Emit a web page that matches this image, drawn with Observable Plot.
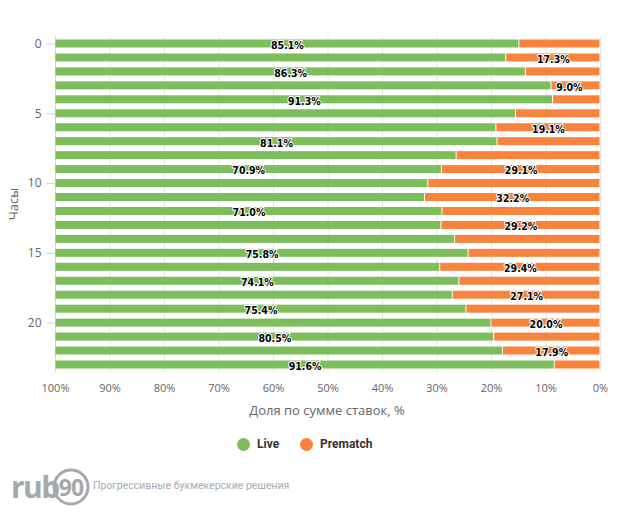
<!DOCTYPE html>
<html>
<head>
<meta charset="utf-8">
<script src="https://cdn.jsdelivr.net/npm/d3@7"></script>
<script src="https://cdn.jsdelivr.net/npm/@observablehq/plot@0.6"></script>
<style>
  body { margin: 0; background: #fff; }
  #wrap { position: relative; width: 621px; height: 516px; overflow: hidden; background: #fff; font-family: "Open Sans", "Noto Sans", sans-serif; }
  #chart { position: absolute; left: 0; top: 0; }
  .ytitle { position: absolute; left: 13px; top: 204px; transform: translate(-50%, -50%) rotate(-90deg); font-size: 13px; color: #666; white-space: nowrap; }
  .xtitle { position: absolute; left: 0; width: 654px; top: 401px; text-align: center; font-size: 13px; color: #666; white-space: nowrap; }
  .legend { position: absolute; top: 436px; left: 0; width: 621px; height: 18px; font-family: Roboto, "Open Sans", sans-serif; font-size: 12px; font-weight: bold; color: #333; }
  .legend .item { position: absolute; top: 0; display: flex; align-items: center; height: 16px; }
  .legend .dot { width: 13px; height: 13px; border-radius: 50%; margin-right: 7px; }
  .footer { position: absolute; left: 0; top: 465px; }
  .tagline { position: absolute; left: 93px; top: 479px; font-family: Roboto, "Open Sans", sans-serif; font-size: 10.5px; color: #a9abae; white-space: nowrap; }
</style>
</head>
<body>
<div id="wrap">
  <div id="chart"></div>
  <div class="ytitle">Часы</div>
  <div class="xtitle">Доля по сумме ставок, %</div>
  <div class="legend" id="legend"></div>
  <svg class="footer" width="95" height="44" viewBox="0 0 95 44">
    <text x="11" y="33" font-family="Open Sans, sans-serif" font-weight="bold" font-size="30" fill="#a6a8ab" letter-spacing="-1.5">rub</text>
    <circle cx="71" cy="22" r="17" fill="none" stroke="#a6a8ab" stroke-width="3"/>
    <text x="71" y="30.5" text-anchor="middle" font-family="Open Sans, sans-serif" font-weight="bold" font-size="23" fill="#a6a8ab" letter-spacing="-1">90</text>
  </svg>
  <div class="tagline">Прогрессивные букмекерские решения</div>
</div>
<script>
// ---- data ----
const hours = [0,1,2,3,4,5,6,7,8,9,10,11,12,13,14,15,16,17,18,19,20,21,22,23];
const live = [85.1, 82.7, 86.3, 91.0, 91.3, 84.5, 80.9, 81.1, 73.6, 70.9, 68.4, 67.8, 71.0, 70.8, 73.3, 75.8, 70.6, 74.1, 72.9, 75.4, 80.0, 80.5, 82.1, 91.6];
const prematch = [14.9, 17.3, 13.7, 9.0, 8.7, 15.5, 19.1, 18.9, 26.4, 29.1, 31.6, 32.2, 29.0, 29.2, 26.7, 24.2, 29.4, 25.9, 27.1, 24.6, 20.0, 19.5, 17.9, 8.4];
const liveLabelHours = [0, 2, 4, 7, 9, 12, 15, 17, 19, 21, 23];
const prematchLabelHours = [1, 3, 6, 9, 11, 13, 16, 18, 20, 22];
const xTicks = [0, 10, 20, 30, 40, 50, 60, 70, 80, 90, 100];
const yTicks = [0, 5, 10, 15, 20];
const seriesNames = ["Live", "Prematch"];
const seriesColors = ["#7dbd5b", "#f7833d"];

// ---- build table ----
const rows = [];
hours.forEach((h, i) => {
  rows.push({hour: h, series: "Prematch", value: prematch[i]});
  rows.push({hour: h, series: "Live", value: live[i]});
});
const liveLabels = liveLabelHours.map(h => ({hour: h, value: live[h], pos: prematch[h] + live[h] / 2}));
const preLabels = prematchLabelHours.map(h => ({hour: h, value: prematch[h], pos: Math.max(prematch[h] / 2, 5.7)}));

const labelStyle = {fill: "#000", stroke: "white", strokeWidth: 2, fontWeight: "bold", fontSize: 10.5, fontFamily: "DejaVu Sans Condensed, DejaVu Sans, sans-serif", dy: 1.5};

const chart = Plot.plot({
  width: 621,
  height: 420,
  marginTop: 36,
  marginBottom: 48,
  marginLeft: 55,
  marginRight: 21,
  style: {fontFamily: "'Open Sans', 'Noto Sans', sans-serif", background: "transparent"},
  x: {domain: [100, 0], ticks: xTicks, label: null},
  y: {type: "band", domain: hours, paddingInner: 0.427, paddingOuter: 0.25, align: 0.5, round: false, label: null},
  color: {domain: seriesNames, range: seriesColors},
  marks: [
    Plot.gridX(xTicks, {stroke: "#e6e6e6", strokeOpacity: 1}),
    Plot.ruleX([100], {stroke: "#ccd6eb"}),
    Plot.axisX({ticks: xTicks, tickSize: 0, tickPadding: 12, tickFormat: d => d + "%", fill: "#666", fontSize: 11, label: null}),
    Plot.axisY({ticks: yTicks, tickSize: 9, tickPadding: 5, stroke: "#ccd6eb", fill: "#666", fontSize: 12, label: null}),
    Plot.barX(rows, Plot.stackX({x: "value", y: "hour", fill: "series", order: ["Prematch", "Live"], insetLeft: 0.5, insetRight: 0.5})),
    Plot.text(liveLabels, {x: "pos", y: "hour", text: d => d.value.toFixed(1) + "%", ...labelStyle}),
    Plot.text(preLabels, {x: "pos", y: "hour", text: d => d.value.toFixed(1) + "%", ...labelStyle})
  ]
});
document.getElementById("chart").appendChild(chart);

// legend
const legend = document.getElementById("legend");
const legendLeft = [237, 300];
seriesNames.forEach((name, i) => {
  const item = document.createElement("div");
  item.className = "item";
  item.style.left = legendLeft[i] + "px";
  const dot = document.createElement("span");
  dot.className = "dot";
  dot.style.background = seriesColors[i];
  const label = document.createElement("span");
  label.textContent = name;
  item.appendChild(dot);
  item.appendChild(label);
  legend.appendChild(item);
});
</script>
</body>
</html>
